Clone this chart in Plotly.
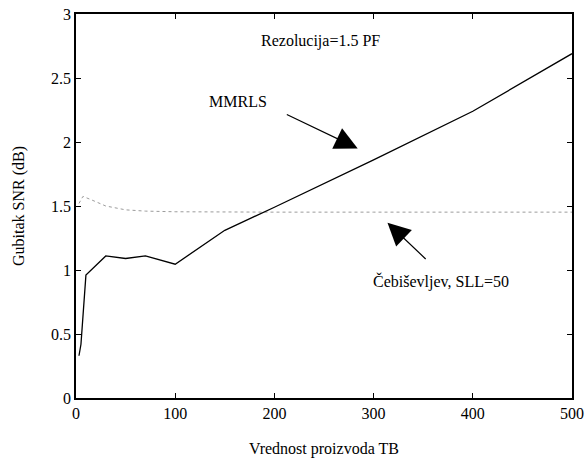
import plotly.graph_objects as go

mmrls_x = [3, 5, 10, 30, 50, 70, 100, 150, 200, 300, 400, 500]
mmrls_y = [0.33, 0.42, 0.96, 1.11, 1.09, 1.11, 1.045, 1.31, 1.49, 1.86, 2.24, 2.69]

cheb_x = [3, 7, 15, 30, 50, 70, 100, 150, 200, 300, 400, 500]
cheb_y = [1.52, 1.575, 1.55, 1.50, 1.47, 1.46, 1.455, 1.452, 1.452, 1.452, 1.452, 1.452]

x_ticks = [0, 100, 200, 300, 400, 500]
y_ticks = [0, 0.5, 1, 1.5, 2, 2.5, 3]
y_tick_labels = ["0", "0.5", "1", "1.5", "2", "2.5", "3"]

FONT = "'Liberation Serif', 'Times New Roman', Times, serif"

fig = go.Figure()
fig.add_trace(go.Scatter(x=cheb_x, y=cheb_y, mode="lines",
                         line=dict(color="#909090", width=0.9, dash="dot"),
                         name="Čebiševljev", showlegend=False))
fig.add_trace(go.Scatter(x=mmrls_x, y=mmrls_y, mode="lines",
                         line=dict(color="black", width=1.3),
                         name="MMRLS", showlegend=False))

fig.add_annotation(x=246, y=2.79, text="Rezolucija=1.5 PF", showarrow=False,
                   font=dict(family=FONT, size=16, color="black"))
fig.add_annotation(x=163, y=2.315, text="MMRLS", showarrow=False,
                   font=dict(family=FONT, size=16, color="black"))
fig.add_annotation(x=368, y=0.91, text="Čebiševljev, SLL=50", showarrow=False,
                   font=dict(family=FONT, size=16, color="black"))

fig.add_annotation(x=284, y=1.95, ax=211, ay=2.22, axref="x", ayref="y",
                   xref="x", yref="y", text="", showarrow=True,
                   arrowhead=2, arrowsize=3.8, arrowwidth=1.2, arrowcolor="black")
fig.add_annotation(x=314, y=1.37, ax=354, ay=1.075, axref="x", ayref="y",
                   xref="x", yref="y", text="", showarrow=True,
                   arrowhead=2, arrowsize=3.8, arrowwidth=1.2, arrowcolor="black")

fig.update_layout(
    width=587, height=458,
    margin=dict(l=76, r=15, t=14, b=60),
    plot_bgcolor="white", paper_bgcolor="white",
    font=dict(family=FONT, size=16, color="black"),
    showlegend=False,
)
fig.update_xaxes(range=[0, 500], tickvals=x_ticks, showgrid=False, zeroline=False,
                 showline=True, linecolor="black", linewidth=1.5, mirror="ticks",
                 ticks="inside", ticklen=5, tickcolor="black", automargin=False,
                 tickfont=dict(family=FONT, size=16),
                 title=dict(text="Vrednost proizvoda TB", font=dict(family=FONT, size=16),
                            standoff=26))
fig.update_yaxes(range=[0, 3], tickvals=y_ticks, ticktext=y_tick_labels, showgrid=False,
                 zeroline=False, showline=True, linecolor="black", linewidth=1.5,
                 mirror="ticks", ticks="inside", ticklen=5, tickcolor="black",
                 automargin=False, tickfont=dict(family=FONT, size=16),
                 title=dict(text="Gubitak SNR (dB)", font=dict(family=FONT, size=16),
                            standoff=22))

fig.write_html("out.html", config={"displayModeBar": False},
               post_script="document.body.style.margin='0';document.body.style.overflow='hidden';")
